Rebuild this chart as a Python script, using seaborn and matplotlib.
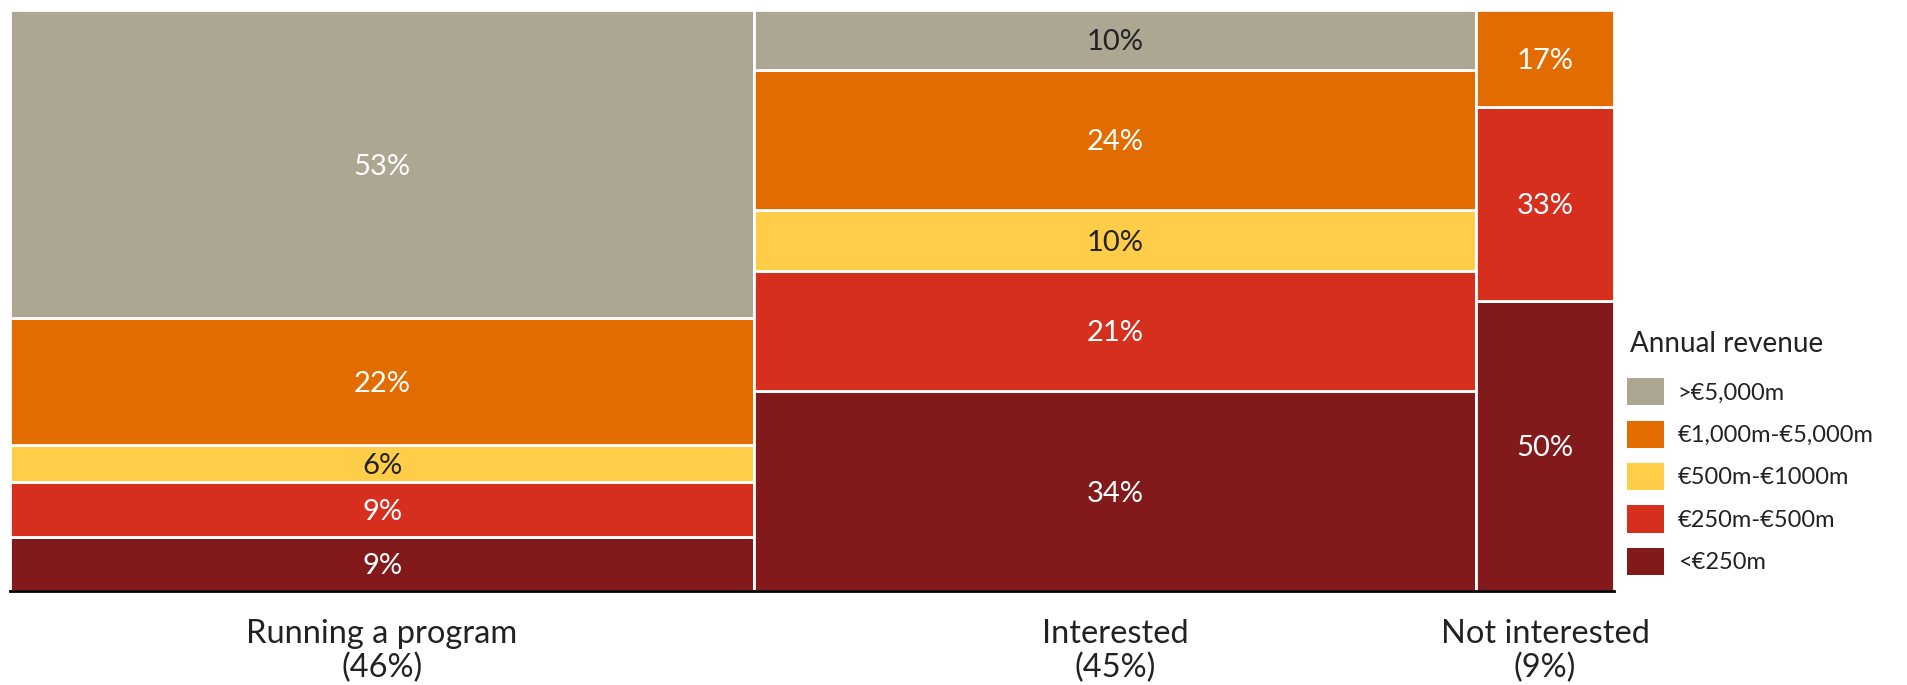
import numpy as np
import pandas as pd
import matplotlib
matplotlib.use("Agg")
import matplotlib.pyplot as plt
import seaborn as sns
from matplotlib.patches import Patch

categories = ["Running a program", "Interested", "Not interested"]
cat_share = [46.4, 45.0, 8.6]
segments = [">€5,000m", "€1,000m-€5,000m", "€500m-€1000m", "€250m-€500m", "<€250m"]
# values per segment (top to bottom), per category
gt5000 = [53.0, 10.2, 0.0]
r1000_5000 = [21.8, 24.2, 16.6]
r500_1000 = [6.4, 10.4, 0.0]
r250_500 = [9.4, 20.8, 33.4]
lt250 = [9.4, 34.4, 50.0]

colors = ["#ADA692", "#E36C00", "#FFCD48", "#D72F1E", "#82191A"]
text_colors = ["white", "white", "#222222", "white", "white"]

sns.set_theme(style="white")
plt.rcParams["font.family"] = ["Lato", "DejaVu Sans"]

fig = plt.figure(figsize=(19.07, 6.85), dpi=100)
ax = fig.add_axes([0.0052, 0.137, 0.8412, 0.848])

vals = np.array([gt5000, r1000_5000, r500_1000, r250_500, lt250], dtype=float)
widths = np.array(cat_share, dtype=float)
lefts = np.concatenate([[0], np.cumsum(widths)[:-1]])

for j in range(len(categories)):
    bottom = 0.0
    for i in range(len(segments) - 1, -1, -1):
        h = vals[i, j]
        if h <= 0:
            continue
        ax.bar(lefts[j], h, width=widths[j], bottom=bottom, align="edge",
               color=colors[i], edgecolor="white", linewidth=2)
        tc = text_colors[i]
        if i == 0 and j == 1:
            tc = "#222222"
        ax.text(lefts[j] + widths[j] / 2, bottom + h / 2, f"{h:.0f}%",
                ha="center", va="center_baseline", fontsize=21, color=tc,
                fontweight="normal")
        bottom += h

ax.set_xlim(0, widths.sum())
ax.set_ylim(0, 100)
ax.set_xticks(lefts + widths / 2)
ax.set_xticklabels([f"{c}\n({s:.0f}%)" for c, s in zip(categories, cat_share)],
                   fontsize=23.5, color="#222222", fontweight="normal", linespacing=1.15)
ax.tick_params(axis="x", length=0, pad=20)
ax.set_yticks([])
for s in ["top", "right", "left"]:
    ax.spines[s].set_visible(False)
ax.spines["bottom"].set_color("black")
ax.spines["bottom"].set_linewidth(2)

fig.text(0.8545, 0.498, "Annual revenue", fontsize=20, color="#222222",
         ha="left", va="center")

handles = [Patch(facecolor=c, edgecolor="none") for c in colors]
leg = fig.legend(handles, segments, loc="upper left",
                 bbox_to_anchor=(0.842, 0.479), frameon=False, fontsize=17,
                 handlelength=1.55, handleheight=1.4, labelspacing=0.64,
                 handletextpad=0.6)
for t in leg.get_texts():
    t.set_color("#222222")

fig.savefig("out.png", dpi=100, facecolor="white")
